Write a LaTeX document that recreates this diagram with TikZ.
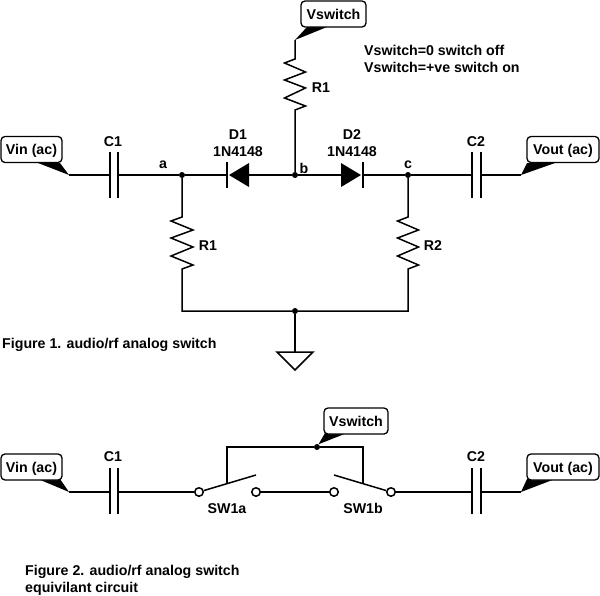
\documentclass[tikz,border=0pt]{standalone}
\usepackage{fontspec}
\setmainfont{Liberation Sans}
\usepackage{tikz}
\usetikzlibrary{calc}
\tikzset{
  wire/.style={line width=1.5pt},
  txt/.style={font=\fontsize{14.2}{16}\selectfont\bfseries, inner sep=0pt, text height=10pt, text depth=0pt},
  tag/.style={txt, draw, line width=1.3pt, rounded corners=4pt, fill=white, minimum height=26pt, inner sep=0pt},
  dot/.style={circle, fill=black, inner sep=0pt, minimum size=6pt},
  term/.style={circle, draw, line width=1.5pt, fill=white, inner sep=0pt, minimum size=8.5pt}
}
\begin{document}
\begin{tikzpicture}[x=1pt,y=-1pt]
\useasboundingbox (0,0) rectangle (600,595);
% figure 1 points
\coordinate (vinA) at (69,175);
\coordinate (c1Al) at (110,175);
\coordinate (c1Ar) at (118,175);
\node [dot] (a) at (182,175) {};
\coordinate (d1k) at (227,175);
\coordinate (d1a) at (249,175);
\node [dot] (b) at (295,175) {};
\coordinate (d2a) at (341,175);
\coordinate (d2k) at (363,175);
\node [dot] (c) at (408,175) {};
\coordinate (c2Al) at (472,175);
\coordinate (c2Ar) at (481,175);
\coordinate (voutA) at (521,175);
\coordinate (swA) at (295,40);
\coordinate (r1t) at (295,59);
\coordinate (r1b) at (295,110);
\coordinate (r2t) at (182,217);
\coordinate (r2b) at (182,269);
\coordinate (r3t) at (408,217);
\coordinate (r3b) at (408,269);
\coordinate (railL) at (182,311);
\node [dot] (gnd) at (295,311) {};
\coordinate (railR) at (408,311);
\coordinate (gndT) at (295,352);
% tags
\fill (vinA) -- (60,163) -- (38,163) -- cycle;
\fill (voutA) -- (527,163) -- (555,163) -- cycle;
\fill (swA) -- (307,27) -- (327,27) -- cycle;
\node [tag, minimum width=61pt] (vin) at (31.5,149.5) {Vin (ac)};
\node [tag, minimum width=72pt] (vout) at (563,149.5) {Vout (ac)};
\node [tag, minimum width=65pt] (sw) at (333.5,14) {Vswitch};
% wires
\draw [wire] (vinA) -- (c1Al);
\draw [wire] (110,152) -- (110,198);
\draw [wire] (118,152) -- (118,198);
\draw [wire] (c1Ar) -- (a) -- (d1k);
\draw [wire] (d1a) -- (b) -- (d2a);
\draw [wire] (d2k) -- (c) -- (c2Al);
\draw [wire] (472,152) -- (472,198);
\draw [wire] (481,152) -- (481,198);
\draw [wire] (c2Ar) -- (voutA);
% diodes
\fill (229,175) -- (249,163) -- (249,187) -- cycle;
\draw [wire] (227,162) -- (227,188);
\fill (361,175) -- (341,163) -- (341,187) -- cycle;
\draw [wire] (363,162) -- (363,188);
% resistors
\draw [wire, line join=miter] (swA) -- (r1t) -- ++(-10.5,4) -- ++(21,9) -- ++(-21,8) -- ++(21,8) -- ++(-21,10) -- ++(21,8) -- (r1b) -- (b);
\draw [wire] (a) -- (r2t) -- ++(-11,4) -- ++(22,9) -- ++(-22,8) -- ++(22,9) -- ++(-22,9) -- ++(22,9) -- (r2b) -- (railL) -- (gnd);
\draw [wire] (c) -- (r3t) -- ++(-10.5,4) -- ++(21,9) -- ++(-21,8) -- ++(21,9) -- ++(-21,9) -- ++(21,9) -- (r3b) -- (railR) -- (gnd);
% ground
\draw [wire] (gnd) -- (gndT);
\draw [wire, line join=miter] (277,352) -- (313,352) -- (295,370) -- cycle;
% figure 2 points
\coordinate (vinB) at (69,492);
\coordinate (c1Bl) at (110,492);
\coordinate (c1Br) at (118,492);
\node [term] (s1) at (199,492) {};
\node [term] (s2) at (256,492) {};
\node [term] (s3) at (334,492) {};
\node [term] (s4) at (391,492) {};
\coordinate (c2Bl) at (472,492);
\coordinate (c2Br) at (481,492);
\coordinate (voutB) at (521,492);
\node [dot] (ctl) at (317,447) {};
\coordinate (ctlL) at (227,447);
\coordinate (ctlR) at (363,447);
\coordinate (armL) at (227,483);
\coordinate (armR) at (363,483);
% tags
\fill (vinB) -- (60,479) -- (38,479) -- cycle;
\fill (voutB) -- (527,479) -- (555,479) -- cycle;
\fill (ctl) -- (325,433) -- (347,433) -- cycle;
\node [tag, minimum width=61pt] (vin2) at (31.5,467) {Vin (ac)};
\node [tag, minimum width=72pt] (vout2) at (563,467) {Vout (ac)};
\node [tag, minimum width=64pt] (sw2) at (356,421) {Vswitch};
% wires
\draw [wire] (vinB) -- (c1Bl);
\draw [wire] (110,468) -- (110,514);
\draw [wire] (118,468) -- (118,514);
\draw [wire] (c1Br) -- (s1);
\draw [wire] (s2) -- (s3);
\draw [wire] (s4) -- (c2Bl);
\draw [wire] (472,468) -- (472,514);
\draw [wire] (481,468) -- (481,514);
\draw [wire] (c2Br) -- (voutB);
\draw [wire] (s1) -- (256,475);
\draw [wire] (s4) -- (334,475);
\draw [wire] (armL) -- (ctlL) -- (ctl) -- (ctlR) -- (armR);
% labels
\node [txt] (lC1) at (113,141) {C1};
\node [txt] (lC2) at (476,141) {C2};
\node [txt] (la) at (163,163) {a};
\node [txt] (lb) at (304,168) {b};
\node [txt] (lc) at (408,163) {c};
\node [txt] (lD1) at (238,134) {D1};
\node [txt] (lD1v) at (238,151) {1N4148};
\node [txt] (lD2) at (352,134) {D2};
\node [txt] (lD2v) at (352,151) {1N4148};
\node [txt] (lR1) at (321,87) {R1};
\node [txt] (lR2) at (208,245) {R1};
\node [txt] (lR3) at (433,245) {R2};
\node [txt, anchor=west] (off) at (364,50) {Vswitch=0 switch off};
\node [txt, anchor=west] (on) at (364,67) {Vswitch=+ve switch on};
\node [txt, anchor=west] (fig1) at (2,343) {Figure 1. audio/rf analog switch};
\node [txt] (lC1b) at (113,456) {C1};
\node [txt] (lC2b) at (476,456) {C2};
\node [txt] (lSWa) at (227,508) {SW1a};
\node [txt] (lSWb) at (363,508) {SW1b};
\node [txt, anchor=west] (fig2) at (25,570) {Figure 2. audio/rf analog switch};
\node [txt, anchor=west] (fig2b) at (25,587) {equivilant circuit};
\end{tikzpicture}
\end{document}
